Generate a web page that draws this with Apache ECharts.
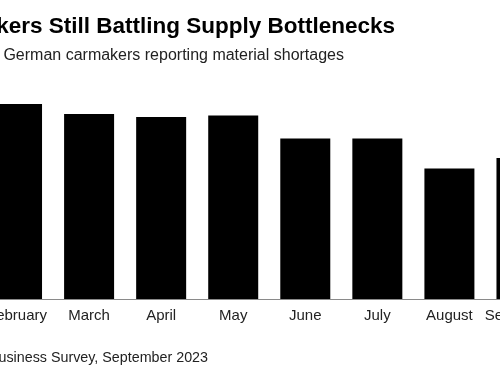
<!DOCTYPE html>
<html>
<head>
<meta charset="utf-8">
<script src="https://cdn.jsdelivr.net/npm/echarts@6/dist/echarts.min.js"></script>
<style>
  html, body { margin: 0; padding: 0; background: #fff; }
  #chart { width: 500px; height: 375px; }
</style>
</head>
<body>
<div id="chart"></div>
<script>
const chart = echarts.init(document.getElementById('chart'))

// share of German carmakers reporting material shortages, %
const months = ['February', 'March', 'April', 'May', 'June', 'July', 'August', 'September']
const shortages = [39.0, 37.0, 36.4, 36.7, 32.1, 32.1, 26.1, 28.2]

const titleText = 'German Carmakers Still Battling Supply Bottlenecks'
const subtitleText = 'Share of German carmakers reporting material shortages'
const sourceText = 'Source: Ifo Business Survey, September 2023'

const font = 'Liberation Sans, Arial, Helvetica, sans-serif'

let option = {
  backgroundColor: '#fff',
  animation: false,
  title: [{
    text: titleText,
    right: 105,
    top: 15,
    padding: 0,
    textStyle: { color: '#000', fontFamily: font, fontWeight: 'bold', fontSize: 22.5 }
  }, {
    text: subtitleText,
    right: 156,
    top: 48,
    padding: 0,
    textStyle: { color: '#222', fontFamily: font, fontWeight: 'normal', fontSize: 16 }
  }, {
    text: sourceText,
    right: 292,
    top: 351,
    padding: 0,
    textStyle: { color: '#222', fontFamily: font, fontWeight: 'normal', fontSize: 14.3 }
  }],
  grid: {
    left: -19,
    right: -57.5,
    top: 49,
    bottom: 76,
    containLabel: false,
    outerBoundsMode: 'none'
  },
  xAxis: {
    type: 'category',
    data: months,
    axisTick: { show: false },
    axisLine: { lineStyle: { color: '#8a8a8a', width: 1 } },
    axisLabel: {
      color: '#222',
      fontFamily: font,
      fontSize: 15,
      margin: 9,
      interval: 0
    }
  },
  yAxis: {
    type: 'value',
    min: 0,
    max: 50,
    show: false,
    splitLine: { show: false }
  },
  series: [{
    type: 'bar',
    data: shortages,
    barWidth: 50,
    itemStyle: { color: '#000' }
  }]
}

chart.setOption(option)
</script>
</body>
</html>
